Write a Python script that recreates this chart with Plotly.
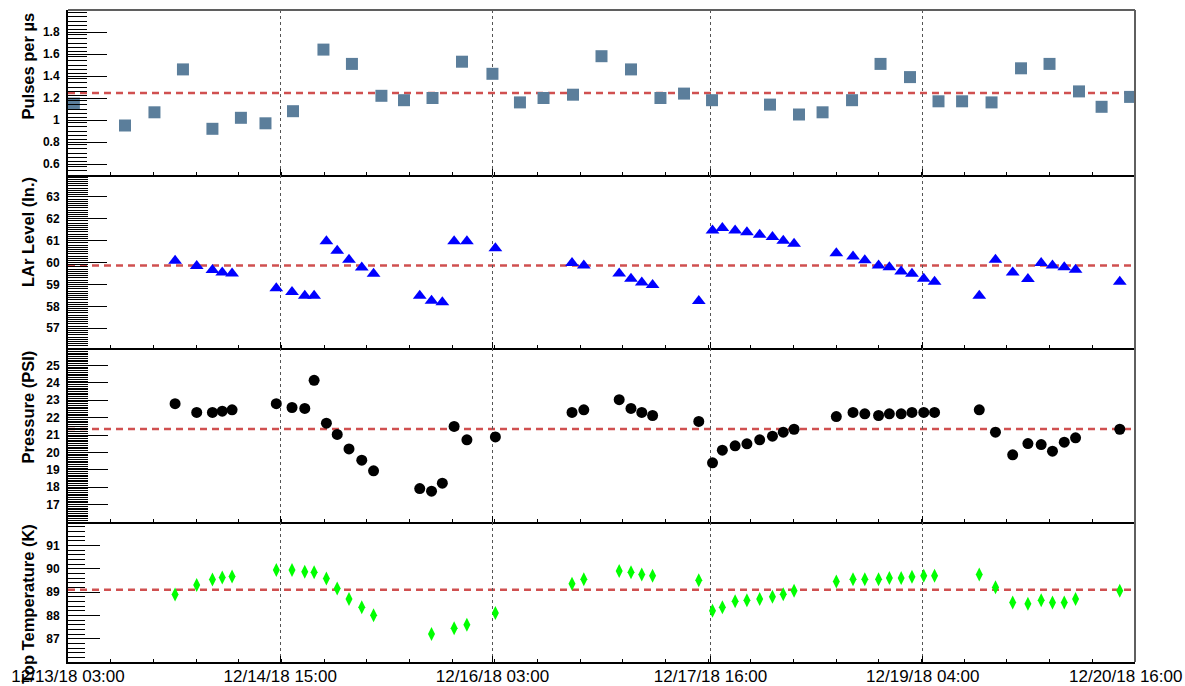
import plotly.graph_objects as go
from plotly.subplots import make_subplots

# ---- purity-monitor pulse rate (one point per ~5 h block) ----
pulse_times = [
    "2018-12-13 04:00", "2018-12-13 12:40", "2018-12-13 17:40", "2018-12-13 22:30",
    "2018-12-14 03:30", "2018-12-14 08:20", "2018-12-14 12:30", "2018-12-14 17:10",
    "2018-12-14 22:20", "2018-12-15 03:10", "2018-12-15 08:10", "2018-12-15 12:00",
    "2018-12-15 16:50", "2018-12-15 21:50", "2018-12-16 03:00", "2018-12-16 07:40",
    "2018-12-16 11:40", "2018-12-16 16:40", "2018-12-16 21:30", "2018-12-17 02:30",
    "2018-12-17 07:30", "2018-12-17 11:30", "2018-12-17 16:15", "2018-12-18 02:05",
    "2018-12-18 07:00", "2018-12-18 11:00", "2018-12-18 16:00", "2018-12-18 20:50",
    "2018-12-19 01:50", "2018-12-19 06:40", "2018-12-19 10:40", "2018-12-19 15:40",
    "2018-12-19 20:40", "2018-12-20 01:30", "2018-12-20 06:30", "2018-12-20 10:20",
    "2018-12-20 15:10",
]
pulses = [
    1.15, 0.95, 1.07, 1.46, 0.92, 1.02, 0.97, 1.08,
    1.64, 1.51, 1.22, 1.18, 1.20, 1.53, 1.42, 1.16,
    1.20, 1.23, 1.58, 1.46, 1.20, 1.24, 1.18, 1.14,
    1.05, 1.07, 1.18, 1.51, 1.39, 1.17, 1.17, 1.16,
    1.47, 1.51, 1.26, 1.12, 1.21,
]

# ---- slow-control readings ----
slow_times = [
    "2018-12-13 21:10", "2018-12-14 00:50", "2018-12-14 03:30", "2018-12-14 05:10",
    "2018-12-14 06:50", "2018-12-14 14:20", "2018-12-14 17:00", "2018-12-14 19:10",
    "2018-12-14 20:45", "2018-12-14 22:50", "2018-12-15 00:40", "2018-12-15 02:40",
    "2018-12-15 04:50", "2018-12-15 06:50", "2018-12-15 14:40", "2018-12-15 16:40",
    "2018-12-15 18:30", "2018-12-15 20:30", "2018-12-15 22:40", "2018-12-16 03:30",
    "2018-12-16 16:30", "2018-12-16 18:30", "2018-12-17 00:30", "2018-12-17 02:30",
    "2018-12-17 04:20", "2018-12-17 06:10", "2018-12-17 14:00", "2018-12-17 16:20",
    "2018-12-17 18:00", "2018-12-17 20:10", "2018-12-17 22:10", "2018-12-18 00:20",
    "2018-12-18 02:30", "2018-12-18 04:20", "2018-12-18 06:10", "2018-12-18 13:20",
    "2018-12-18 16:10", "2018-12-18 18:10", "2018-12-18 20:30", "2018-12-18 22:20",
    "2018-12-19 00:20", "2018-12-19 02:10", "2018-12-19 04:10", "2018-12-19 06:00",
    "2018-12-19 13:35", "2018-12-19 16:20", "2018-12-19 19:15", "2018-12-19 21:50",
    "2018-12-20 00:05", "2018-12-20 02:00", "2018-12-20 04:00", "2018-12-20 05:55",
    "2018-12-20 13:25",
]
lar_level = [
    60.08, 59.85, 59.66, 59.55, 59.50, 58.83, 58.66, 58.49,
    58.49, 60.97, 60.54, 60.13, 59.78, 59.49, 58.49, 58.26,
    58.19, 60.97, 60.97, 60.66, 59.98, 59.87, 59.50, 59.26,
    59.09, 58.98, 58.25, 61.46, 61.58, 61.46, 61.38, 61.27,
    61.17, 61.00, 60.86, 60.43, 60.28, 60.11, 59.87, 59.79,
    59.59, 59.49, 59.26, 59.13, 58.49, 60.13, 59.55, 59.25,
    59.98, 59.87, 59.79, 59.67, 59.13,
]
pressure = [
    22.80, 22.30, 22.30, 22.37, 22.45, 22.80, 22.58, 22.53,
    24.14, 21.68, 21.03, 20.20, 19.55, 18.94, 17.92, 17.77,
    18.23, 21.49, 20.72, 20.89, 22.30, 22.45, 23.03, 22.53,
    22.30, 22.12, 21.78, 19.40, 20.13, 20.38, 20.49, 20.72,
    20.93, 21.16, 21.33, 22.06, 22.30, 22.22, 22.12, 22.22,
    22.22, 22.30, 22.30, 22.30, 22.45, 21.16, 19.86, 20.51,
    20.45, 20.07, 20.59, 20.84, 21.33,
]

temp_times = [
    "2018-12-13 21:10", "2018-12-14 00:50", "2018-12-14 03:30", "2018-12-14 05:10",
    "2018-12-14 06:50", "2018-12-14 14:20", "2018-12-14 17:00", "2018-12-14 19:10",
    "2018-12-14 20:45", "2018-12-14 22:50", "2018-12-15 00:40", "2018-12-15 02:40",
    "2018-12-15 04:50", "2018-12-15 06:50", "2018-12-15 16:40", "2018-12-15 20:30",
    "2018-12-15 22:40", "2018-12-16 03:30", "2018-12-16 16:30", "2018-12-16 18:30",
    "2018-12-17 00:30", "2018-12-17 02:30", "2018-12-17 04:20", "2018-12-17 06:10",
    "2018-12-17 14:00", "2018-12-17 16:20", "2018-12-17 18:00", "2018-12-17 20:10",
    "2018-12-17 22:10", "2018-12-18 00:20", "2018-12-18 02:30", "2018-12-18 04:20",
    "2018-12-18 06:10", "2018-12-18 13:20", "2018-12-18 16:10", "2018-12-18 18:10",
    "2018-12-18 20:30", "2018-12-18 22:20", "2018-12-19 00:20", "2018-12-19 02:10",
    "2018-12-19 04:10", "2018-12-19 06:00", "2018-12-19 13:35", "2018-12-19 16:20",
    "2018-12-19 19:15", "2018-12-19 21:50", "2018-12-20 00:05", "2018-12-20 02:00",
    "2018-12-20 04:00", "2018-12-20 05:55", "2018-12-20 13:25",
]
top_temp = [
    88.89, 89.30, 89.54, 89.62, 89.66, 89.94, 89.94, 89.87,
    89.85, 89.58, 89.15, 88.70, 88.35, 88.00, 87.20, 87.45,
    87.60, 88.10, 89.35, 89.55, 89.90, 89.85, 89.75, 89.70,
    89.50, 88.20, 88.35, 88.60, 88.65, 88.70, 88.80, 88.90,
    89.05, 89.45, 89.55, 89.55, 89.55, 89.60, 89.60, 89.65,
    89.70, 89.70, 89.75, 89.20, 88.55, 88.50, 88.65, 88.55,
    88.55, 88.70, 89.05,
]

# average levels shown as dashed reference lines
ref_levels = [1.245, 59.87, 21.35, 89.10]

x_range = ["2018-12-13 03:00", "2018-12-20 16:00"]
x_tickvals = ["2018-12-13 03:00", "2018-12-14 15:00", "2018-12-16 03:00",
              "2018-12-17 16:00", "2018-12-19 04:00", "2018-12-20 15:59"]
x_ticktext = ["12/13/18 03:00", "12/14/18 15:00", "12/16/18 03:00",
              "12/17/18 16:00", "12/19/18 04:00", "12/20/18 16:00"]

y_titles = ["Pulses per µs", "LAr Level (In.)", "Pressure (PSI)", "Top Temperature (K)"]
y_ranges = [[0.5, 2.0], [56.1, 64.0], [16, 26], [86, 92]]
y_tickvals = [
    [0.6, 0.8, 1.0, 1.2, 1.4, 1.6, 1.8],
    [57, 58, 59, 60, 61, 62, 63],
    [17, 18, 19, 20, 21, 22, 23, 24, 25],
    [87, 88, 89, 90, 91],
]
y_ticktext = [
    ["0.6", "0.8", "1", "1.2", "1.4", "1.6", "1.8"],
    ["57", "58", "59", "60", "61", "62", "63"],
    ["17", "18", "19", "20", "21", "22", "23", "24", "25"],
    ["87", "88", "89", "90", "91"],
]
y_minor_step = [0.04, 0.1, 0.1, 0.2]
major_len = [39, 39, 40, 32]
minor_len = [19, 20, 20, 17]

FONT = "Liberation Sans, Arial, Helvetica, sans-serif"
W, H = 1185, 686
ML, MR, MT, MB = 68, 50, 10, 24
plot_w = W - ML - MR
plot_h = H - MT - MB
# panel edges in pixels from the top of the page
edges = [10, 175, 348, 522, 662]
domains = []
for i in range(4):
    top = (edges[4] - edges[i]) / plot_h
    bot = (edges[4] - edges[i + 1]) / plot_h
    domains.append([bot, top])

fig = make_subplots(rows=4, cols=1, shared_xaxes=True, vertical_spacing=0)

fig.add_trace(go.Scatter(
    x=pulse_times, y=pulses, mode="markers",
    marker=dict(symbol="square", size=12, color="#5b7e9b"),
    showlegend=False), row=1, col=1)
fig.add_trace(go.Scatter(
    x=slow_times, y=lar_level, mode="markers",
    marker=dict(symbol="triangle-up", size=12, color="#0000ff"),
    showlegend=False), row=2, col=1)
fig.add_trace(go.Scatter(
    x=slow_times, y=pressure, mode="markers",
    marker=dict(symbol="circle", size=11, color="#000000"),
    showlegend=False), row=3, col=1)
fig.add_trace(go.Scatter(
    x=temp_times, y=top_temp, mode="markers",
    marker=dict(symbol="diamond-tall", size=10, color="#00ff00"),
    showlegend=False), row=4, col=1)

# the final date label is drawn right-aligned to the page edge so it stays whole
axis_ticktext = x_ticktext[:-1] + [""]

for i in range(4):
    r = i + 1
    fig.add_hline(y=ref_levels[i], line=dict(color="#d05050", width=2.5, dash="7px,5px"),
                  row=r, col=1, layer="below")
    fig.update_yaxes(
        row=r, col=1, domain=domains[i], range=y_ranges[i], automargin=False,
        tickmode="array", tickvals=y_tickvals[i], ticktext=y_ticktext[i],
        ticks="inside", ticklen=major_len[i], tickwidth=1.3, tickcolor="black",
        ticklabelstandoff=4,
        minor=dict(ticks="inside", ticklen=minor_len[i], tickwidth=1.2, tickcolor="black",
                   tickmode="linear", tick0=y_ranges[i][0], dtick=y_minor_step[i],
                   showgrid=False),
        showgrid=False, zeroline=False,
        showline=True, linecolor="black", linewidth=2,
        tickfont=dict(family=FONT, size=12, color="black", weight="bold"),
    )
    fig.update_xaxes(
        row=r, col=1, type="date", range=x_range, automargin=False,
        tickmode="array", tickvals=x_tickvals, ticktext=axis_ticktext,
        ticks="inside", ticklen=6, tickwidth=1.2, tickcolor="black",
        ticklabelstandoff=-2, ticklabeloverflow="allow",
        minor=dict(ticks="inside", ticklen=3, tickwidth=1.2, tickcolor="black",
                   tickmode="linear", tick0=x_range[0], dtick=7.24 * 3600 * 1000,
                   showgrid=False),
        showgrid=True, griddash="dot", gridcolor="#555555", gridwidth=1,
        zeroline=False, showline=True, linecolor="black", linewidth=2,
        tickfont=dict(family=FONT, size=17, color="black"),
    )
    fig.add_annotation(
        text=y_titles[i], textangle=-90, showarrow=False,
        xref="paper", yref="paper", x=-0.0375, y=domains[i][1],
        xanchor="center", yanchor="top",
        font=dict(family=FONT, size=16.5, color="black", weight="bold"),
    )

fig.add_annotation(
    text=x_ticktext[-1], showarrow=False,
    xref="paper", yref="paper", x=(W - 1 - ML) / plot_w, y=-14 / plot_h,
    xanchor="right", yanchor="middle",
    font=dict(family=FONT, size=17, color="black"),
)

# grey frame edges (top and right)
fig.add_shape(type="line", xref="paper", yref="paper", x0=0, x1=1, y0=1, y1=1,
              line=dict(color="#5f5f5f", width=2))
fig.add_shape(type="line", xref="paper", yref="paper", x0=1, x1=1, y0=0, y1=1,
              line=dict(color="#5f5f5f", width=2))

fig.update_layout(
    width=W, height=H,
    margin=dict(l=ML, r=MR, t=MT, b=MB, autoexpand=False),
    paper_bgcolor="white", plot_bgcolor="white",
    font=dict(family=FONT, color="black"),
)

fig.write_html("out.html")
